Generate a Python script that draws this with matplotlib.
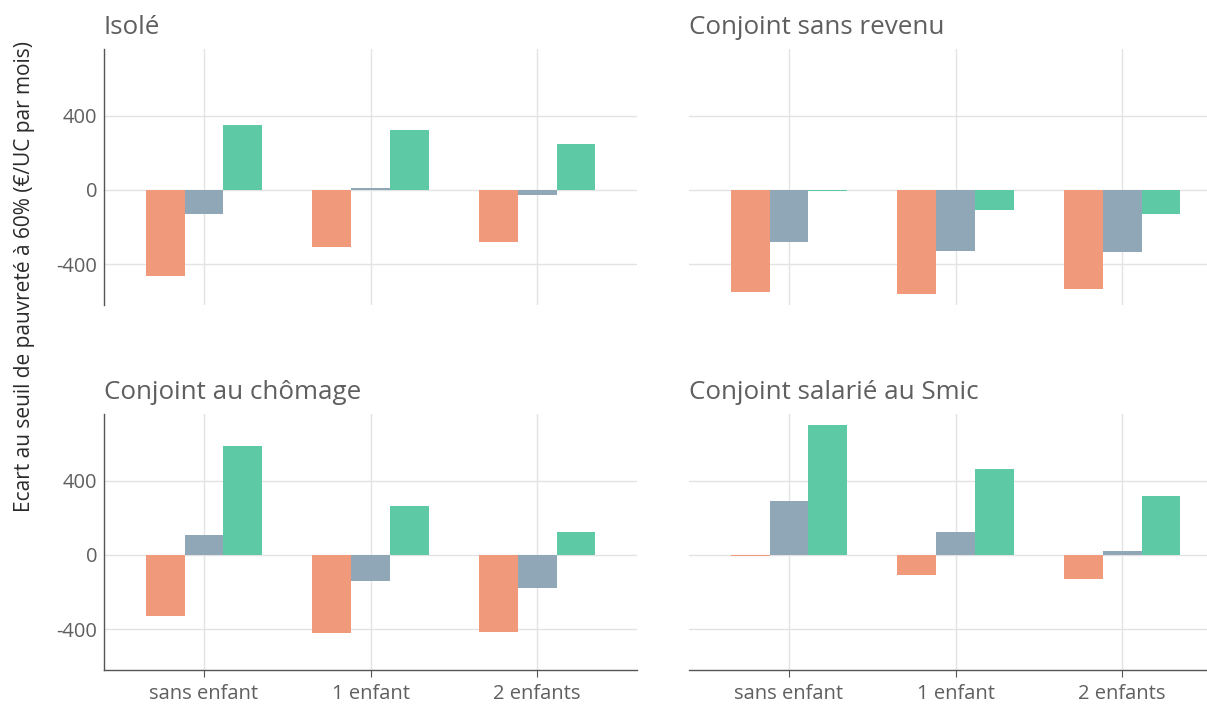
import numpy as np
import matplotlib
matplotlib.use('Agg')
import matplotlib.pyplot as plt

plt.rcParams['font.family'] = ['Open Sans', 'DejaVu Sans']
plt.rcParams['axes.unicode_minus'] = False

# data (euros per consumption unit per month)
categories = ['sans enfant', '1 enfant', '2 enfants']
panels = ['Isolé', 'Conjoint sans revenu', 'Conjoint au chômage', 'Conjoint salarié au Smic']
serie_orange = [[-464, -306, -283], [-550, -561, -534], [-330, -420, -414], [-4, -108, -130]]
serie_bleu = [[-128, 13, -25], [-280, -329, -334], [108, -139, -176], [292, 124, 22]]
serie_vert = [[351, 324, 248], [-5, -108, -129], [589, 265, 124], [703, 465, 319]]
yticks = [-400, 0, 400]
ylabel = 'Ecart au seuil de pauvreté à 60% (€/UC par mois)'

colors = ['#F09A7B', '#8FA7B6', '#5DCAA5']
txt = '#5f5f5f'
W, H = 1207, 704
fig = plt.figure(figsize=(W / 100, H / 100), dpi=100)

# axes boxes in pixels: left, top, right, bottom
boxes = [(104, 49, 637, 305), (689, 49, 1207, 305),
         (104, 414, 637, 670), (689, 414, 1207, 670)]
bw = 0.7 / 3
x = np.arange(len(categories))

for i, (l, t, r, b) in enumerate(boxes):
    ax = fig.add_axes([l / W, 1 - b / H, (r - l) / W, (b - t) / H])
    for j, serie in enumerate([serie_orange, serie_bleu, serie_vert]):
        ax.bar(x + (j - 1) * bw, serie[i], width=bw, color=colors[j], zorder=3)
    ax.set_ylim(-620, 760)
    right = i % 2 == 1
    ax.set_xlim(-0.6, -0.6 + (r - l) / 166.6)
    ax.set_yticks(yticks)
    ax.set_xticks(x)
    ax.grid(True, color='#e3e3e3', linewidth=1, zorder=0)
    for s in ['top', 'right']:
        ax.spines[s].set_visible(False)
    ax.spines['left'].set_visible(not right)
    ax.spines['bottom'].set_visible(i >= 2)
    for s in ['left', 'bottom']:
        ax.spines[s].set_color('#555555')
        ax.spines[s].set_linewidth(1)
    ax.tick_params(axis='y', length=0, pad=5, labelsize=14.5, labelcolor=txt, labelleft=not right)
    if i >= 2:
        ax.set_xticklabels(categories)
        ax.tick_params(axis='x', length=5, color='#555555', pad=5, labelsize=14.5, labelcolor=txt)
    else:
        ax.tick_params(axis='x', length=0, labelbottom=False)
    ax.set_title(panels[i], loc='left', fontsize=18.7, color=txt, pad=11)

fig.text(25 / W, 1 - 277 / H, ylabel, rotation=90, ha='center', va='center',
         fontsize=15, color='#2a2a2a')

fig.savefig('out.png', dpi=100)
